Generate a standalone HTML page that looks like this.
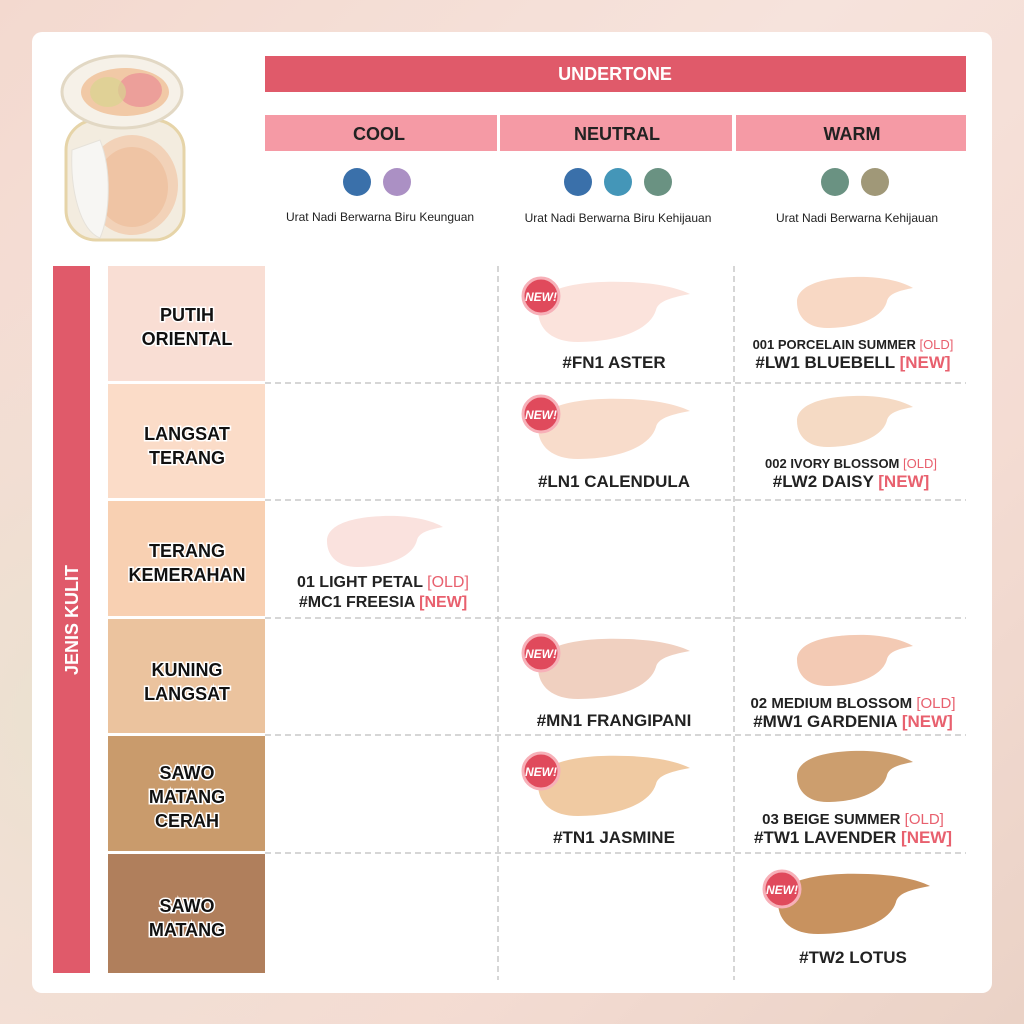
<!DOCTYPE html>
<html><head><meta charset="utf-8"><style>
html,body{margin:0;padding:0;width:1024px;height:1024px;overflow:hidden;}
body{background:linear-gradient(135deg,#f3d9cf 0%,#f6e3dc 40%,#f4dcd3 70%,#ead2c6 100%);}
svg text{font-family:"Liberation Sans",sans-serif;font-weight:bold;}
</style></head><body>
<svg width="1024" height="1024" viewBox="0 0 1024 1024" xmlns="http://www.w3.org/2000/svg">
<defs>
<radialGradient id="bg1" cx="0.1" cy="0.7" r="0.5"><stop offset="0" stop-color="#e9e2cf"/><stop offset="1" stop-color="#f3d9cf" stop-opacity="0"/></radialGradient>
<g id="smear"><path d="M0,30 C0,8 40,0 90,2 C120,3 140,8 152,14 C130,18 120,22 118,30 C112,50 80,62 40,62 C15,62 0,50 0,30 Z"/></g>
<g id="smallsmear"><path d="M0,26 C0,8 30,0 70,1 C92,2 108,7 116,12 C100,15 92,18 90,25 C86,42 60,52 30,52 C12,52 0,42 0,26 Z"/></g>
<g id="newb"><circle r="18" fill="#e04a5c" stroke="#f7b0b8" stroke-width="3"/><text x="0" y="5" font-size="12" fill="#fff" text-anchor="middle" font-style="italic">NEW!</text></g>
</defs>
<rect width="1024" height="1024" fill="url(#bg1)"/>
<rect x="32" y="32" width="960" height="961" rx="10" fill="#fff"/>

<!-- product -->
<rect x="66" y="120" width="118" height="120" rx="30" fill="#f3ecdf" stroke="#e6d4a8" stroke-width="3"/>
<ellipse cx="132" cy="185" rx="46" ry="50" fill="#f2d2b8"/>
<ellipse cx="132" cy="187" rx="36" ry="40" fill="#efc4a4"/>
<path d="M72,150 C70,190 80,230 100,238 C110,215 112,170 100,140 Z" fill="#f7f6f3" stroke="#e6e2da"/>
<ellipse cx="122" cy="92" rx="60" ry="36" fill="#f6f1e8" stroke="#e2d8c4" stroke-width="3"/>
<ellipse cx="125" cy="92" rx="44" ry="24" fill="#f1c9a6"/>
<ellipse cx="140" cy="90" rx="22" ry="17" fill="#ec9f9a"/>
<ellipse cx="108" cy="92" rx="18" ry="15" fill="#d9d490" opacity="0.7"/>

<!-- headers -->
<rect x="265" y="56" width="701" height="36" fill="#e05a6a"/>
<text x="615" y="80" font-size="18" fill="#fff" text-anchor="middle">UNDERTONE</text>
<rect x="265" y="115" width="232" height="36" fill="#f59aa5"/>
<rect x="500" y="115" width="232" height="36" fill="#f59aa5"/>
<rect x="736" y="115" width="230" height="36" fill="#f59aa5"/>
<text x="379" y="140" font-size="18" fill="#222" text-anchor="middle">COOL</text>
<text x="617" y="140" font-size="18" fill="#222" text-anchor="middle">NEUTRAL</text>
<text x="852" y="140" font-size="18" fill="#222" text-anchor="middle">WARM</text>
<circle cx="357" cy="182" r="14" fill="#3a70aa"/>
<circle cx="397" cy="182" r="14" fill="#ab90c4"/>
<circle cx="578" cy="182" r="14" fill="#3a70aa"/>
<circle cx="618" cy="182" r="14" fill="#4496b8"/>
<circle cx="658" cy="182" r="14" fill="#6a9282"/>
<circle cx="835" cy="182" r="14" fill="#6a9282"/>
<circle cx="875" cy="182" r="14" fill="#a09878"/>
<g font-size="12" fill="#222" text-anchor="middle">
<text x="380" y="221" style="font-weight:normal">Urat Nadi Berwarna Biru Keunguan</text>
<text x="618" y="222" style="font-weight:normal">Urat Nadi Berwarna Biru Kehijauan</text>
<text x="857" y="222" style="font-weight:normal">Urat Nadi Berwarna Kehijauan</text>
</g>

<!-- left bar -->
<rect x="53" y="266" width="37" height="707" fill="#e05a6a"/>
<text transform="translate(78,620) rotate(-90)" font-size="18" fill="#fff" text-anchor="middle">JENIS KULIT</text>

<!-- row labels -->
<rect x="108" y="266" width="157" height="115" fill="#f9ded4"/>
<rect x="108" y="384" width="157" height="114" fill="#fbdcc8"/>
<rect x="108" y="501" width="157" height="115" fill="#f8d0b2"/>
<rect x="108" y="619" width="157" height="114" fill="#ebc39e"/>
<rect x="108" y="736" width="157" height="115" fill="#c99b6c"/>
<rect x="108" y="854" width="157" height="119" fill="#b07f5c"/>
<g font-size="18" fill="#111" text-anchor="middle" stroke="#fff" stroke-width="3" paint-order="stroke">
<text x="187" y="321">PUTIH</text><text x="187" y="345">ORIENTAL</text>
<text x="187" y="440">LANGSAT</text><text x="187" y="464">TERANG</text>
<text x="187" y="557">TERANG</text><text x="187" y="581">KEMERAHAN</text>
<text x="187" y="676">KUNING</text><text x="187" y="700">LANGSAT</text>
<text x="187" y="779">SAWO</text><text x="187" y="803">MATANG</text><text x="187" y="827">CERAH</text>
<text x="187" y="912">SAWO</text><text x="187" y="936">MATANG</text>
</g>

<!-- dashed grid -->
<g stroke="#c8c8c8" stroke-width="1.5" stroke-dasharray="6,4" fill="none">
<line x1="265" y1="383" x2="966" y2="383"/><line x1="265" y1="500" x2="966" y2="500"/>
<line x1="265" y1="618" x2="966" y2="618"/><line x1="265" y1="735" x2="966" y2="735"/>
<line x1="265" y1="853" x2="966" y2="853"/>
<line x1="498" y1="266" x2="498" y2="980"/><line x1="734" y1="266" x2="734" y2="980"/>
</g>

<!-- neutral swatches -->
<use href="#smear" transform="translate(538,280)" fill="#fbe3dc"/>
<use href="#newb" transform="translate(541,296)"/>
<text x="614" y="368" font-size="17" fill="#222" text-anchor="middle">#FN1 ASTER</text>
<use href="#smear" transform="translate(538,397)" fill="#f8dccb"/>
<use href="#newb" transform="translate(541,414)"/>
<text x="614" y="487" font-size="17" fill="#222" text-anchor="middle">#LN1 CALENDULA</text>
<use href="#smear" transform="translate(538,637)" fill="#f0d0c0"/>
<use href="#newb" transform="translate(541,653)"/>
<text x="614" y="726" font-size="17" fill="#222" text-anchor="middle">#MN1 FRANGIPANI</text>
<use href="#smear" transform="translate(538,754)" fill="#f0caa2"/>
<use href="#newb" transform="translate(541,771)"/>
<text x="614" y="843" font-size="17" fill="#222" text-anchor="middle">#TN1 JASMINE</text>

<!-- cool -->
<use href="#smallsmear" transform="translate(327,515)" fill="#fae2de"/>
<text x="383" y="587" font-size="16" fill="#222" text-anchor="middle">01 LIGHT PETAL <tspan fill="#e8606e" style="font-weight:normal">[OLD]</tspan></text>
<text x="383" y="607" font-size="16" fill="#222" text-anchor="middle">#MC1 FREESIA <tspan fill="#e8606e">[NEW]</tspan></text>

<!-- warm -->
<use href="#smallsmear" transform="translate(797,276)" fill="#f8d8c4"/>
<text x="853" y="349" font-size="13" fill="#222" text-anchor="middle">001 PORCELAIN SUMMER <tspan fill="#e8606e" style="font-weight:normal">[OLD]</tspan></text>
<text x="853" y="368" font-size="17" fill="#222" text-anchor="middle">#LW1 BLUEBELL <tspan fill="#e8606e">[NEW]</tspan></text>
<use href="#smallsmear" transform="translate(797,395)" fill="#f5dac4"/>
<text x="851" y="468" font-size="13" fill="#222" text-anchor="middle">002 IVORY BLOSSOM <tspan fill="#e8606e" style="font-weight:normal">[OLD]</tspan></text>
<text x="851" y="487" font-size="17" fill="#222" text-anchor="middle">#LW2 DAISY <tspan fill="#e8606e">[NEW]</tspan></text>
<use href="#smallsmear" transform="translate(797,634)" fill="#f3cab4"/>
<text x="853" y="708" font-size="15" fill="#222" text-anchor="middle">02 MEDIUM BLOSSOM <tspan fill="#e8606e" style="font-weight:normal">[OLD]</tspan></text>
<text x="853" y="727" font-size="17" fill="#222" text-anchor="middle">#MW1 GARDENIA <tspan fill="#e8606e">[NEW]</tspan></text>
<use href="#smallsmear" transform="translate(797,750)" fill="#cc9e6e"/>
<text x="853" y="824" font-size="15" fill="#222" text-anchor="middle">03 BEIGE SUMMER <tspan fill="#e8606e" style="font-weight:normal">[OLD]</tspan></text>
<text x="853" y="843" font-size="17" fill="#222" text-anchor="middle">#TW1 LAVENDER <tspan fill="#e8606e">[NEW]</tspan></text>
<use href="#smear" transform="translate(778,872)" fill="#c8925f"/>
<use href="#newb" transform="translate(782,889)"/>
<text x="853" y="963" font-size="17" fill="#222" text-anchor="middle">#TW2 LOTUS</text>
</svg>
</body></html>
